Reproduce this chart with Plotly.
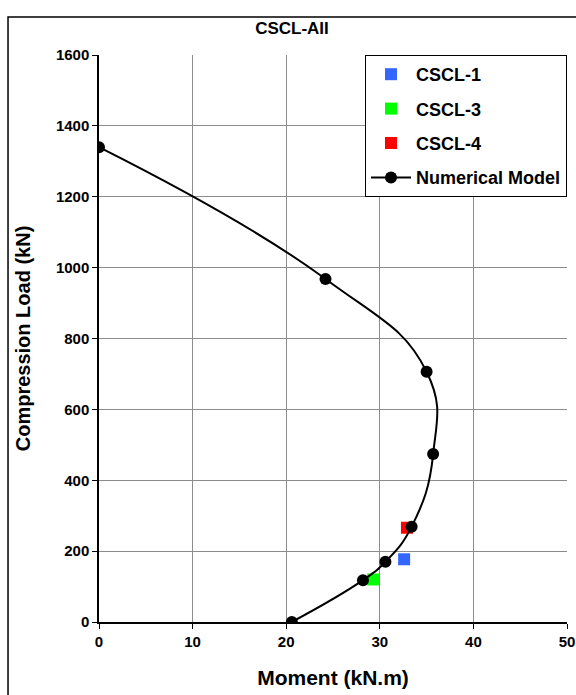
import plotly.graph_objects as go

# Numerical interaction curve (moment vs. compression load)
model_moment = [0, 24.2, 35.0, 35.7, 33.4, 30.6, 28.2, 20.6]
model_load = [1340, 968, 706, 474, 269, 170, 118, 0]

# Test specimens
test_names = ["CSCL-1", "CSCL-3", "CSCL-4"]
test_moment = [32.6, 29.3, 32.9]
test_load = [177, 120, 266]
test_colors = ["#3366FF", "#00FF00", "#FF0000"]

FONT = "Liberation Sans, Arial, sans-serif"

fig = go.Figure()

for i, name in enumerate(test_names):
    fig.add_trace(go.Scatter(
        x=[test_moment[i]], y=[test_load[i]], mode="markers", name=name,
        legendgroup=name,
        marker=dict(symbol="square", size=12, color=test_colors[i]),
    ))

fig.add_trace(go.Scatter(
    x=model_moment, y=model_load, mode="lines+markers", name="Numerical Model",
    legendgroup="model",
    line=dict(color="black", width=2, shape="spline", smoothing=1.3),
    marker=dict(symbol="circle", size=12, color="black"),
))

axis_common = dict(
    showgrid=True, gridcolor="#8c8c8c", gridwidth=1,
    zeroline=False, showline=True, linecolor="black", linewidth=1.5,
    ticks="outside", ticklen=5, tickcolor="black", tickwidth=1,
    tickfont=dict(family=FONT, size=15, color="black", weight="bold"),
)

fig.update_xaxes(
    range=[0, 50], dtick=10, **axis_common,
    title=dict(text="Moment (kN.m)", standoff=22,
               font=dict(family=FONT, size=21, color="black", weight="bold")),
)
fig.update_yaxes(
    range=[0, 1600], dtick=200, **axis_common,
    title=dict(text="Compression Load (kN)", standoff=20,
               font=dict(family=FONT, size=20, color="black", weight="bold")),
)

# Chart frame
fig.add_shape(type="rect", xref="paper", yref="paper",
              x0=-0.1944, y0=-0.2, x1=1.1, y1=1.067,
              line=dict(color="black", width=1.5), layer="below")

fig.update_layout(
    width=576, height=695,
    margin=dict(l=99, r=9, t=55, b=73, autoexpand=False),
    paper_bgcolor="white", plot_bgcolor="white",
    title=dict(text="CSCL-AII", x=292 / 576, xanchor="center",
               y=1 - 28 / 695, yanchor="middle",
               font=dict(family=FONT, size=17, color="black", weight="bold")),
    legend=dict(
        x=1, xanchor="right", y=1, yanchor="top",
        bgcolor="white", bordercolor="black", borderwidth=1,
        font=dict(family=FONT, size=18, color="black", weight="bold"),
        tracegroupgap=8, itemwidth=40,
    ),
    showlegend=True,
)

fig.write_html("out.html")
